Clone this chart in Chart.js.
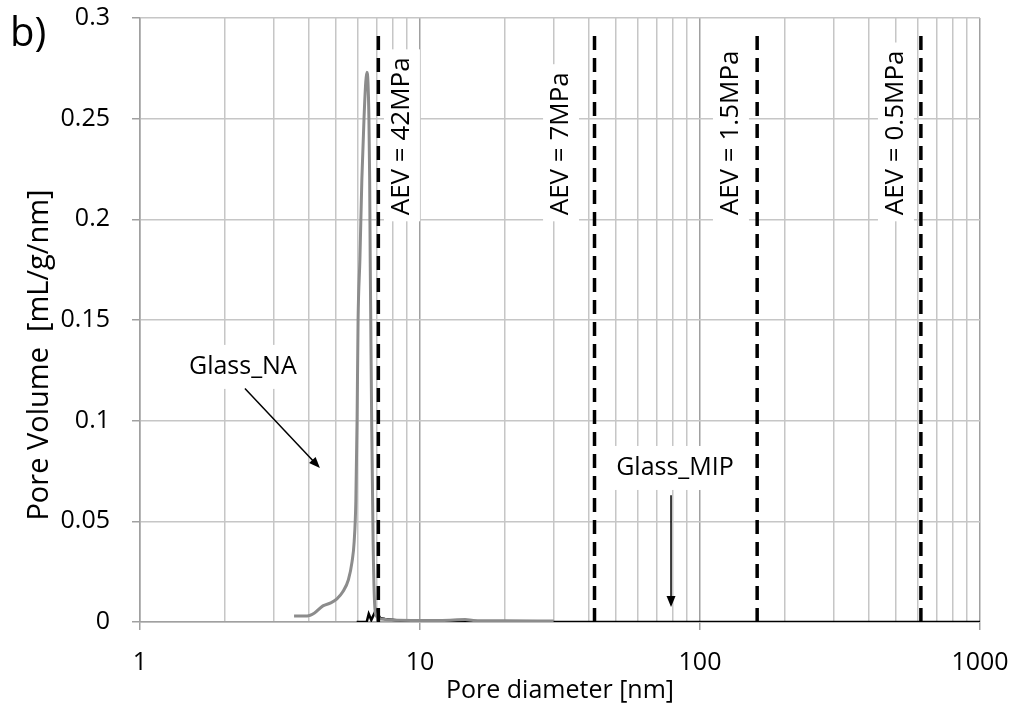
<!DOCTYPE html>
<html>
<head>
<meta charset="utf-8">
<script src="https://cdn.jsdelivr.net/npm/chart.js@4.4.1/dist/chart.umd.min.js"></script>
<style>
body { margin: 0; background: #fff; }
canvas { display: block; }
</style>
</head>
<body>
<canvas id="graph" width="1015" height="722"></canvas>
<script>
//Glass_NA curve: pore diameter [nm] and pore volume [mL/g/nm]
const naDiameter = [3.55, 3.95, 4.2, 4.5, 4.8, 5.05, 5.3, 5.55, 5.72, 5.82, 5.9, 5.96, 6.01, 6.1, 6.2, 6.31, 6.4, 6.46, 6.52, 6.57, 6.61, 6.64, 6.67, 6.72, 6.8, 6.88, 6.98, 7.3, 8, 10, 12, 14.5, 15.5, 20, 30];
const naVolume = [0.003, 0.003, 0.0045, 0.008, 0.0095, 0.0115, 0.015, 0.021, 0.03, 0.04, 0.06, 0.1, 0.15, 0.18, 0.22, 0.25, 0.268, 0.273, 0.268, 0.25, 0.22, 0.18, 0.15, 0.1, 0.04, 0.01, 0.003, 0.0015, 0.001, 0.0008, 0.0008, 0.0012, 0.0008, 0.0006, 0.0005];

//Glass_MIP curve
const mipDiameter = [5.94, 6.45, 6.56, 6.7, 6.96, 7.2, 7.5, 8.7, 10, 30, 100, 1000];
const mipVolume = [0, 0, 0.004, 0.001, 0.006, 0.002, 0.0015, 0.0005, 0, 0, 0, 0];

//air entry values drawn as dashed lines
const aevDiameter = [7.1, 42, 160, 615];
const aevTop = 0.295;
const aevLabels = ['AEV = 42MPa', 'AEV = 7MPa', 'AEV = 1.5MPa', 'AEV = 0.5MPa'];
const aevLabelX = [8.62, 31.9, 129, 501];
const aevLabelY = 0.202;

//axis ticks
const xTicks = [1, 10, 100, 1000];
const yTicks = [0, 0.05, 0.1, 0.15, 0.2, 0.25, 0.3];

//curve labels with arrows (text x, text y, arrow from x,y to x,y)
const curveLabels = [
    { text: 'Glass_NA', x: 2.33, y: 0.1267, from: [2.37, 0.116], to: [4.39, 0.0765] },
    { text: 'Glass_MIP', x: 81.4, y: 0.0765, from: [78.8, 0.063], to: [78.8, 0.0075] }
];

const fontFamily = "'Open Sans', sans-serif";
const gridGray = '#c6c6c6';
const axisGray = '#a0a0a0';

//gridline values: 1..9 in every decade
const gridValues = [];
for (let d = 1; d < 1000; d *= 10) {
    for (let k = 1; k <= 9; k++) gridValues.push(k * d);
}
gridValues.push(1000);

const isDecade = v => xTicks.some(t => Math.abs(t - v) / t < 1e-6);

const pairs = (xs, ys) => xs.map((x, i) => ({ x: x, y: ys[i] }));

const datasets = [
    {
        label: 'Glass_NA',
        data: pairs(naDiameter, naVolume),
        borderColor: '#8c8c8c',
        borderWidth: 3,
        pointRadius: 0,
        cubicInterpolationMode: 'monotone',
        order: 3
    },
    {
        label: 'Glass_MIP',
        data: pairs(mipDiameter, mipVolume),
        borderColor: '#000',
        borderWidth: 2.5,
        pointRadius: 0,
        order: 4
    }
];
aevDiameter.forEach((d, i) => {
    datasets.push({
        label: aevLabels[i],
        data: [{ x: d, y: 0 }, { x: d, y: aevTop }],
        borderColor: '#000',
        borderWidth: 3.5,
        borderDash: [14, 8],
        pointRadius: 0,
        order: 1
    });
});

//draws labels, white boxes and arrows
const annotations = {
    id: 'annotations',
    beforeDatasetsDraw(chart) {
        const ctx = chart.ctx;
        const xs = chart.scales.x;
        const ys = chart.scales.y;
        ctx.save();

        //AEV labels, rotated
        ctx.font = '26px ' + fontFamily;
        aevLabels.forEach((t, i) => {
            const px = xs.getPixelForValue(aevLabelX[i]);
            const py = ys.getPixelForValue(aevLabelY);
            const w = ctx.measureText(t).width;
            ctx.fillStyle = '#fff';
            ctx.fillRect(px - 18, py - w - 8, 36, w + 14);
            ctx.translate(px, py);
            ctx.rotate(-Math.PI / 2);
            ctx.fillStyle = '#000';
            ctx.textAlign = 'left';
            ctx.textBaseline = 'middle';
            ctx.fillText(t, 0, 0);
            ctx.setTransform(1, 0, 0, 1, 0, 0);
        });

        //curve labels with arrows
        ctx.font = '25px ' + fontFamily;
        curveLabels.forEach(l => {
            const px = xs.getPixelForValue(l.x);
            const py = ys.getPixelForValue(l.y);
            const w = ctx.measureText(l.text).width;
            ctx.fillStyle = '#fff';
            ctx.fillRect(px - w / 2 - 6, py - 22, w + 12, 44);
            ctx.fillStyle = '#000';
            ctx.textAlign = 'center';
            ctx.textBaseline = 'middle';
            ctx.fillText(l.text, px, py);

            const x1 = xs.getPixelForValue(l.from[0]);
            const y1 = ys.getPixelForValue(l.from[1]);
            const x2 = xs.getPixelForValue(l.to[0]);
            const y2 = ys.getPixelForValue(l.to[1]);
            const a = Math.atan2(y2 - y1, x2 - x1);
            ctx.strokeStyle = '#000';
            ctx.lineWidth = 1.5;
            ctx.beginPath();
            ctx.moveTo(x1, y1);
            ctx.lineTo(x2 - 8 * Math.cos(a), y2 - 8 * Math.sin(a));
            ctx.stroke();
            ctx.beginPath();
            ctx.moveTo(x2, y2);
            ctx.lineTo(x2 - 11 * Math.cos(a) + 4.5 * Math.sin(a), y2 - 11 * Math.sin(a) - 4.5 * Math.cos(a));
            ctx.lineTo(x2 - 11 * Math.cos(a) - 4.5 * Math.sin(a), y2 - 11 * Math.sin(a) + 4.5 * Math.cos(a));
            ctx.closePath();
            ctx.fillStyle = '#000';
            ctx.fill();
        });

        //y axis title, a little below the middle of the axis as in the source
        ctx.font = '29px ' + fontFamily;
        ctx.textAlign = 'center';
        ctx.textBaseline = 'middle';
        ctx.translate(40, 355);
        ctx.rotate(-Math.PI / 2);
        ctx.fillText('Pore Volume  [mL/g/nm]', 0, 0);
        ctx.setTransform(1, 0, 0, 1, 0, 0);

        //panel letter
        ctx.font = '40px ' + fontFamily;
        ctx.textAlign = 'left';
        ctx.textBaseline = 'alphabetic';
        ctx.fillText('b)', 10, 46);
        ctx.restore();
    }
};

new Chart(document.getElementById('graph'), {
    type: 'line',
    data: { datasets: datasets },
    options: {
        responsive: false,
        animation: false,
        devicePixelRatio: 1,
        layout: { autoPadding: false, padding: { left: 0, right: 35, top: 18, bottom: 0 } },
        plugins: { legend: { display: false }, tooltip: { enabled: false } },
        scales: {
            x: {
                type: 'logarithmic',
                min: 1,
                max: 1000,
                afterFit: s => {
                    s.height = 100;
                    s.paddingLeft = 0;
                    s.paddingRight = 0;
                },
                afterBuildTicks: s => {
                    s.ticks = gridValues.map(v => ({ value: v, major: isDecade(v) }));
                },
                border: { color: axisGray, width: 1.5 },
                grid: {
                    color: c => isDecade(c.tick.value) ? axisGray : gridGray,
                    lineWidth: 1.5,
                    tickLength: 8,
                    tickColor: c => isDecade(c.tick.value) ? axisGray : 'rgba(0,0,0,0)'
                },
                ticks: {
                    autoSkip: false,
                    maxRotation: 0,
                    padding: 18,
                    color: '#000',
                    font: { family: fontFamily, size: 25 },
                    callback: v => isDecade(v) ? String(Math.round(v)) : ''
                },
                title: {
                    display: true,
                    text: 'Pore diameter [nm]',
                    color: '#000',
                    font: { family: fontFamily, size: 25 },
                    padding: { bottom: 16 }
                }
            },
            y: {
                min: 0,
                max: 0.3,
                afterFit: s => {
                    s.width = 140;
                    s.paddingTop = 0;
                    s.paddingBottom = 0;
                },
                afterBuildTicks: s => {
                    s.ticks = yTicks.map(v => ({ value: v }));
                },
                border: { color: axisGray, width: 1.5 },
                grid: {
                    color: gridGray,
                    lineWidth: 1.5,
                    tickLength: 8,
                    tickColor: axisGray
                },
                ticks: {
                    padding: 22,
                    color: '#000',
                    font: { family: fontFamily, size: 25 },
                    callback: v => String(Number(v.toFixed(2)))
                }
            }
        }
    },
    plugins: [annotations]
});
</script>
</body>
</html>
